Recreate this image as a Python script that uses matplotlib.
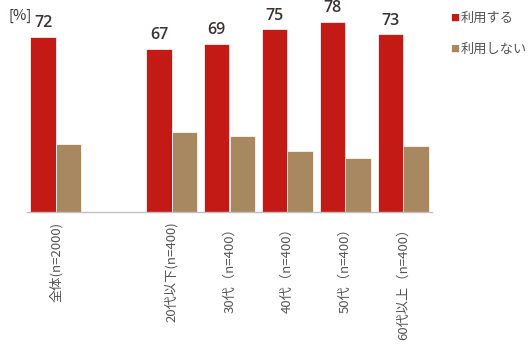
import matplotlib
matplotlib.use('Agg')
import matplotlib.pyplot as plt
import numpy as np

plt.rcParams['font.family'] = ['Noto Sans CJK JP', 'DejaVu Sans']

# ── Data ──
categories = ['全体(n=2000)', '20代以下(n=400)', '30代（n=400）', '40代（n=400）',
              '50代（n=400）', '60代以上（n=400）']
slots = [0, 2, 3, 4, 5, 6]          # empty slot after 全体
use = [72, 67, 69, 75, 78, 73]
no_use = [28, 33, 31, 25, 22, 27]
series = ['利用する', '利用しない']
colors = ['#C41A16', '#A88860']

fig = plt.figure(figsize=(5.29, 3.46), dpi=100)
ax = fig.add_axes([27 / 529, 1 - 212 / 346, 405 / 529, 212 / 346])

x = np.array(slots, dtype=float)
w = 0.44
ax.bar(x - w / 2, use, w, color=colors[0], edgecolor='white', linewidth=0.5)
ax.bar(x + w / 2, no_use, w, color=colors[1], edgecolor='white', linewidth=0.5)

for xi, v in zip(x, use):
    ax.text(xi - w / 2, v + 2.3, f'{v}', ha='center', va='bottom',
            fontsize=11.5, fontweight='semibold', color='#3a3232',
            family='Open Sans')

ax.set_xlim(-0.5, 6.5)
ax.set_ylim(0, 87)
ax.set_xticks(x)
ax.set_xticklabels(categories, rotation=90, fontsize=9.5, color='#555555')
ax.tick_params(axis='x', length=0, pad=7)
ax.set_yticks([])
for s in ['top', 'right', 'left']:
    ax.spines[s].set_visible(False)
ax.spines['bottom'].set_color('#c0c0c0')
ax.spines['bottom'].set_linewidth(1)

fig.text(9 / 529, 1 - 16 / 346, '[%]', fontsize=10.5, color='#3a3232', va='center')

# legend drawn as marker + label pairs
for i, (lab, c) in enumerate(zip(series, colors)):
    yy = 1 - (18 + 31 * i) / 346
    fig.text(450 / 529, yy, '■', fontsize=6.5, color=c, va='center')
    fig.text(461 / 529, yy, lab, fontsize=9.5, color='#555555', va='center')

fig.savefig('out.png', dpi=100)
